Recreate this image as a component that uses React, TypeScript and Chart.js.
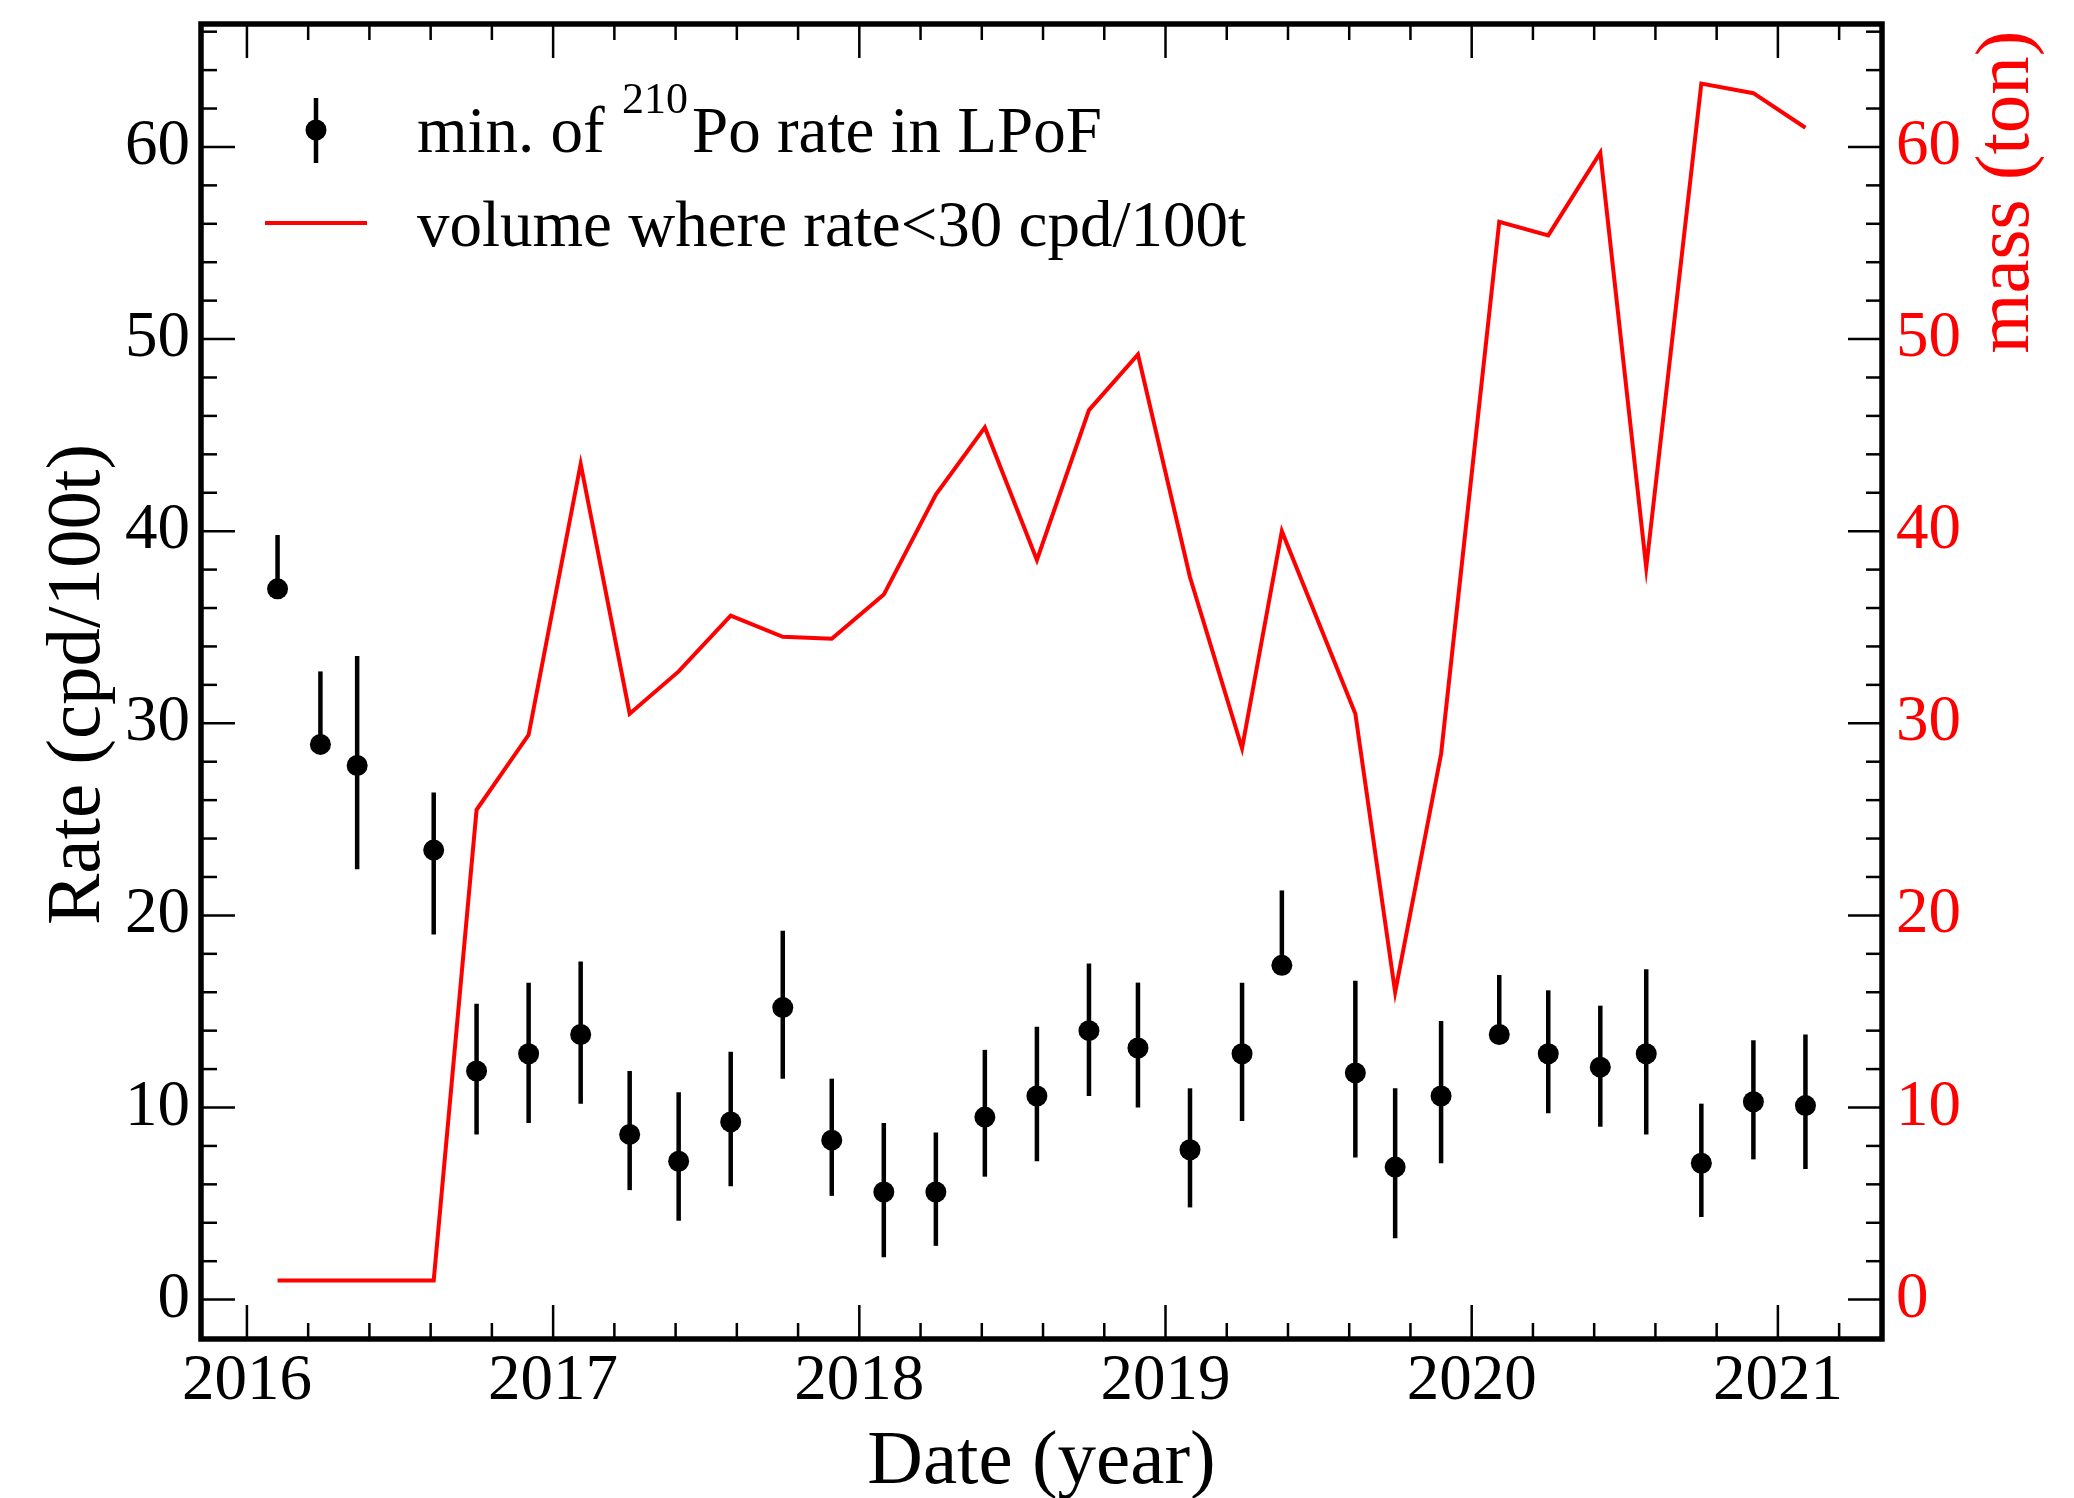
import React, { useEffect, useRef } from "react";
import { Chart, registerables } from "chart.js";

Chart.register(...registerables);

// Bimonthly measurement dates (decimal years)
const dates = [
  2016.1, 2016.24, 2016.36, 2016.61, 2016.75, 2016.92, 2017.09, 2017.25,
  2017.41, 2017.58, 2017.75, 2017.91, 2018.08, 2018.25, 2018.41, 2018.58,
  2018.75, 2018.91, 2019.08, 2019.25, 2019.38, 2019.62, 2019.75, 2019.9,
  2020.09, 2020.25, 2020.42, 2020.57, 2020.75, 2020.92, 2021.09,
];

// Minimum 210Po rate in the LPoF (cpd/100t) with asymmetric errors
const rate = [
  37.0, 28.9, 27.8, 23.4, 11.9, 12.8, 13.8, 8.6, 7.2, 9.25, 15.2, 8.3, 5.6,
  5.6, 9.5, 10.6, 14.0, 13.1, 7.8, 12.8, 17.4, 11.8, 6.9, 10.6, 13.8, 12.8,
  12.1, 12.8, 7.1, 10.3, 10.1,
];
const rateErrUp = [
  2.8, 3.8, 5.7, 3.0, 3.5, 3.7, 3.8, 3.3, 3.6, 3.65, 4.0, 3.2, 3.6, 3.1, 3.5,
  3.6, 3.5, 3.4, 3.2, 3.7, 3.9, 4.8, 4.1, 3.9, 3.1, 3.3, 3.2, 4.4, 3.1, 3.2,
  3.7,
];
const rateErrDown = [
  0.4, 0.4, 5.4, 4.4, 3.3, 3.6, 3.6, 2.9, 3.1, 3.35, 3.7, 2.9, 3.4, 2.8, 3.1,
  3.4, 3.4, 3.1, 3.0, 3.5, 0.4, 4.4, 3.7, 3.5, 0.4, 3.1, 3.1, 4.2, 2.8, 3.0,
  3.3,
];

// Fiducial mass where the rate stays below 30 cpd/100t (ton)
const mass = [
  1, 1, 1, 1, 25.5, 29.4, 43.5, 30.5, 32.7, 35.6, 34.5, 34.4, 36.7, 41.9, 45.4,
  38.5, 46.3, 49.2, 37.6, 28.7, 40.0, 30.5, 16.0, 28.4, 56.1, 55.4, 59.7, 38.1,
  63.3, 62.8, 61.0,
];

const yearTicks = [2016, 2017, 2018, 2019, 2020, 2021];
const rateTicks = [0, 10, 20, 30, 40, 50, 60];
const massTicks = [0, 10, 20, 30, 40, 50, 60];

const X_MIN = 2015.85;
const X_MAX = 2021.34;
const Y_MIN = -2.05;
const Y_MAX = 66.4;

const SERIF = "'Liberation Serif', 'Times New Roman', serif";
const RED = "#ff0000";

const errorBars = {
  id: "errorBars",
  beforeDatasetsDraw(chart: any) {
    const { ctx } = chart;
    const xs = chart.scales.x;
    const ys = chart.scales.y;
    ctx.save();
    ctx.strokeStyle = "#000";
    ctx.lineWidth = 4.5;
    for (let i = 0; i < dates.length; i++) {
      const px = xs.getPixelForValue(dates[i]);
      ctx.beginPath();
      ctx.moveTo(px, ys.getPixelForValue(rate[i] + rateErrUp[i]));
      ctx.lineTo(px, ys.getPixelForValue(rate[i] - rateErrDown[i]));
      ctx.stroke();
    }
    ctx.restore();
  },
};

function range(from: number, to: number, step: number) {
  const out: number[] = [];
  for (let v = from; v <= to + 1e-9; v += step) out.push(Math.round(v * 1000) / 1000);
  return out;
}

const frameAndTicks = {
  id: "frameAndTicks",
  afterDatasetsDraw(chart: any) {
    const { ctx, chartArea: a } = chart;
    const xs = chart.scales.x;
    const ys = chart.scales.y;
    const ys2 = chart.scales.y2;
    ctx.save();
    ctx.strokeStyle = "#000";
    ctx.lineWidth = 2.5;
    const major = 34;
    const minor = 16;
    // x ticks along bottom and top
    range(2016, 2021.2, 0.2).forEach((v) => {
      if (v < X_MIN || v > X_MAX) return;
      const isMajor = Math.abs(v - Math.round(v)) < 1e-6;
      const len = isMajor ? major : minor;
      const px = xs.getPixelForValue(v);
      ctx.beginPath();
      ctx.moveTo(px, a.bottom);
      ctx.lineTo(px, a.bottom - len);
      ctx.moveTo(px, a.top);
      ctx.lineTo(px, a.top + len);
      ctx.stroke();
    });
    // left axis ticks
    range(0, 66, 2).forEach((v) => {
      const isMajor = v % 10 === 0;
      const len = isMajor ? major : minor;
      const py = ys.getPixelForValue(v);
      ctx.beginPath();
      ctx.moveTo(a.left, py);
      ctx.lineTo(a.left + len, py);
      ctx.stroke();
    });
    // right (mass) axis ticks
    range(0, 66, 2).forEach((v) => {
      const isMajor = v % 10 === 0;
      const len = isMajor ? major : minor;
      const py = ys2.getPixelForValue(v);
      ctx.beginPath();
      ctx.moveTo(a.right, py);
      ctx.lineTo(a.right - len, py);
      ctx.stroke();
    });
    // frame
    ctx.lineWidth = 5.5;
    ctx.strokeRect(a.left, a.top, a.right - a.left, a.bottom - a.top);
    ctx.restore();
  },
};

const titlesAndLegend = {
  id: "titlesAndLegend",
  afterDraw(chart: any) {
    const { ctx, chartArea: a } = chart;
    ctx.save();
    ctx.textBaseline = "alphabetic";

    // axis titles
    ctx.fillStyle = "#000";
    ctx.font = `77px ${SERIF}`;
    ctx.textAlign = "center";
    ctx.fillText("Date (year)", (a.left + a.right) / 2, 1483);

    ctx.save();
    ctx.translate(99, (a.top + a.bottom) / 2 + 3);
    ctx.rotate(-Math.PI / 2);
    ctx.fillText("Rate (cpd/100t)", 0, 0);
    ctx.restore();

    ctx.save();
    ctx.fillStyle = RED;
    ctx.translate(2028, 192);
    ctx.rotate(-Math.PI / 2);
    ctx.fillText("mass (ton)", 0, 0);
    ctx.restore();

    // legend entry 1: data point with error bar
    ctx.strokeStyle = "#000";
    ctx.lineWidth = 4.5;
    ctx.beginPath();
    ctx.moveTo(316, 98);
    ctx.lineTo(316, 163);
    ctx.stroke();
    ctx.beginPath();
    ctx.arc(316, 130, 10.5, 0, Math.PI * 2);
    ctx.fill();

    ctx.textAlign = "left";
    ctx.font = `65px ${SERIF}`;
    ctx.fillText("min. of", 417, 152);
    ctx.font = `44px ${SERIF}`;
    ctx.fillText("210", 622, 113);
    ctx.font = `65px ${SERIF}`;
    ctx.fillText("Po rate in LPoF", 692, 152);

    // legend entry 2: red line
    ctx.strokeStyle = RED;
    ctx.lineWidth = 4;
    ctx.beginPath();
    ctx.moveTo(265, 223);
    ctx.lineTo(367, 223);
    ctx.stroke();
    ctx.fillText("volume where rate<30 cpd/100t", 417, 246);

    ctx.restore();
  },
};

function zeroPadding(s: any) {
  s.paddingTop = 0;
  s.paddingBottom = 0;
  s.paddingLeft = 0;
  s.paddingRight = 0;
}

export default function App() {
  const canvasRef = useRef<HTMLCanvasElement>(null);

  useEffect(() => {
    const canvas = canvasRef.current;
    if (!canvas) return;
    const chart = new Chart(canvas, {
      type: "scatter",
      data: {
        datasets: [
          {
            label: "volume where rate<30 cpd/100t",
            data: dates.map((d, i) => ({ x: d, y: mass[i] })),
            yAxisID: "y2",
            showLine: true,
            borderColor: RED,
            backgroundColor: RED,
            borderWidth: 4,
            pointRadius: 0,
            tension: 0,
          },
          {
            label: "min. of 210Po rate in LPoF",
            data: dates.map((d, i) => ({ x: d, y: rate[i] })),
            yAxisID: "y",
            backgroundColor: "#000",
            borderColor: "#000",
            borderWidth: 0,
            pointRadius: 10.5,
          },
        ],
      },
      options: {
        responsive: false,
        animation: false,
        devicePixelRatio: 1,
        layout: { padding: { top: 24, left: 0, right: 0, bottom: 0 } },
        plugins: {
          legend: { display: false },
          tooltip: { enabled: false },
          title: { display: false },
        },
        scales: {
          x: {
            type: "linear",
            position: "bottom",
            min: X_MIN,
            max: X_MAX,
            grid: { display: false, drawTicks: false },
            border: { display: false },
            afterBuildTicks: (s: any) => {
              s.ticks = yearTicks.map((v) => ({ value: v }));
            },
            afterFit: (s: any) => {
              s.height = 159;
              zeroPadding(s);
            },
            ticks: {
              autoSkip: false,
              maxRotation: 0,
              padding: 4,
              color: "#000",
              font: { family: SERIF, size: 65 },
              callback: (v: any) => String(v),
            },
          },
          y: {
            type: "linear",
            position: "left",
            min: Y_MIN,
            max: Y_MAX,
            grid: { display: false, drawTicks: false },
            border: { display: false },
            afterBuildTicks: (s: any) => {
              s.ticks = rateTicks.map((v) => ({ value: v }));
            },
            afterFit: (s: any) => {
              s.width = 201;
              zeroPadding(s);
            },
            ticks: {
              padding: 11,
              color: "#000",
              font: { family: SERIF, size: 65 },
              callback: (v: any) => String(v),
            },
          },
          y2: {
            type: "linear",
            position: "right",
            min: Y_MIN,
            max: Y_MAX,
            grid: { display: false, drawTicks: false },
            border: { display: false },
            afterBuildTicks: (s: any) => {
              s.ticks = massTicks.map((v) => ({ value: v }));
            },
            afterFit: (s: any) => {
              s.width = 192;
              zeroPadding(s);
            },
            ticks: {
              padding: 14,
              color: RED,
              font: { family: SERIF, size: 65 },
              callback: (v: any) => String(v),
            },
          },
        },
      },
      plugins: [errorBars, frameAndTicks, titlesAndLegend],
    });
    return () => chart.destroy();
  }, []);

  return (
    <div style={{ position: "absolute", left: 0, top: 0, width: 2074, height: 1498, background: "#fff" }}>
      <canvas ref={canvasRef} width={2074} height={1498} style={{ display: "block" }} />
    </div>
  );
}
